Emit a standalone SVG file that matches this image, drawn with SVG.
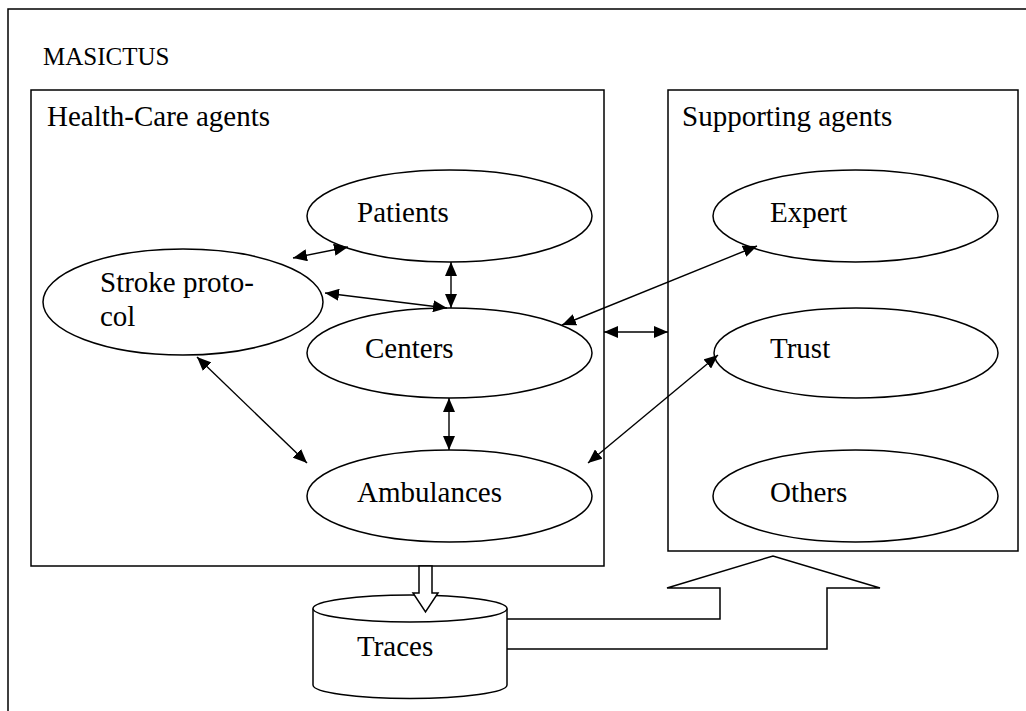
<svg xmlns="http://www.w3.org/2000/svg" width="1026" height="711" viewBox="0 0 1026 711">
<style>
.t{font-family:"Liberation Serif","Times New Roman",serif;font-size:29px;fill:#000}
.s{fill:#fff;stroke:#000;stroke-width:1.5}
.c{fill:none;stroke:#000;stroke-width:1.4}
</style>
<defs>
<marker id="ah" viewBox="0 0 14 12" refX="14" refY="6" markerWidth="14" markerHeight="12" markerUnits="userSpaceOnUse" orient="auto-start-reverse">
<path d="M0,0 L14,6 L0,12 Z" fill="#000"/>
</marker>
</defs>
<rect x="0" y="0" width="1026" height="711" fill="#fff"/>
<rect id="frame" x="8" y="9" width="1040" height="730" fill="none" stroke="#000" stroke-width="1.5"/>
<text class="t" x="43" y="65" style="font-size:25px">MASICTUS</text>

<g id="healthcare">
<rect class="s" x="31" y="90" width="573" height="476"/>
<text class="t" x="47" y="126">Health-Care agents</text>
</g>
<g id="supporting">
<rect class="s" x="668" y="90" width="350" height="461"/>
<text class="t" x="682" y="126">Supporting agents</text>
</g>

<g id="stroke">
<ellipse class="s" cx="183" cy="302" rx="140" ry="53"/>
<text class="t" x="100" y="292">Stroke proto-</text>
<text class="t" x="100" y="326">col</text>
</g>
<g id="patients">
<ellipse class="s" cx="449.5" cy="216" rx="142.5" ry="46"/>
<text class="t" x="357" y="222">Patients</text>
</g>
<g id="centers">
<ellipse class="s" cx="449.5" cy="353" rx="142.5" ry="45"/>
<text class="t" x="365" y="358">Centers</text>
</g>
<g id="ambulances">
<ellipse class="s" cx="449.5" cy="496" rx="142.5" ry="46"/>
<text class="t" x="357" y="502">Ambulances</text>
</g>
<g id="expert">
<ellipse class="s" cx="855.5" cy="216" rx="142.5" ry="46"/>
<text class="t" x="770" y="222">Expert</text>
</g>
<g id="trust">
<ellipse class="s" cx="856" cy="353" rx="142" ry="45"/>
<text class="t" x="770" y="358">Trust</text>
</g>
<g id="others">
<ellipse class="s" cx="855.5" cy="496" rx="142.5" ry="46"/>
<text class="t" x="770" y="502">Others</text>
</g>

<g id="bigarrow">
<polygon class="s" points="500,619 720,619 720,588 667,588 773,556 880,588 827,588 827,649 500,649"/>
</g>
<g id="traces">
<path class="s" d="M313,608.5 L313,685 A97,13.5 0 0 0 507,685 L507,608.5"/>
<ellipse class="s" cx="410" cy="608.5" rx="97" ry="13.5"/>
<text class="t" x="357" y="656">Traces</text>
</g>
<g id="downarrow">
<polygon class="s" points="419,566 432,566 432,593 438,593 425.5,612 413,593 419,593"/>
</g>

<g id="connectors" class="c">
<line x1="293" y1="258" x2="348" y2="247" marker-start="url(#ah)" marker-end="url(#ah)"/>
<line x1="325" y1="293" x2="447" y2="308" marker-start="url(#ah)" marker-end="url(#ah)"/>
<line x1="451" y1="262" x2="451" y2="308" marker-start="url(#ah)" marker-end="url(#ah)"/>
<line x1="449" y1="398" x2="449" y2="450" marker-start="url(#ah)" marker-end="url(#ah)"/>
<line x1="197" y1="357" x2="307" y2="463" marker-start="url(#ah)" marker-end="url(#ah)"/>
<line x1="562" y1="325" x2="757" y2="246" marker-start="url(#ah)" marker-end="url(#ah)"/>
<line x1="588" y1="463" x2="718" y2="355" marker-start="url(#ah)" marker-end="url(#ah)"/>
<line x1="604" y1="332" x2="668" y2="332" marker-start="url(#ah)" marker-end="url(#ah)"/>
</g>
</svg>
